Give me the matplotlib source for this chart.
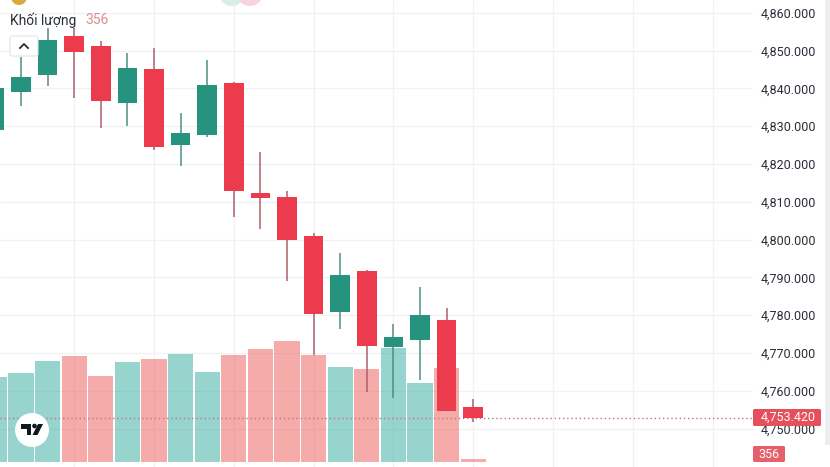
import matplotlib
matplotlib.use("Agg")
import matplotlib.pyplot as plt
from matplotlib.patches import Circle, FancyBboxPatch, Polygon, Rectangle
import numpy as np

W, H = 830, 467

# leftmost candle is cut by the chart edge
opens = [4829.0, 4839.0, 4843.5, 4853.8, 4851.1, 4836.1, 4845.0, 4825.0, 4827.6,
         4841.5, 4812.3, 4811.2, 4800.9, 4780.8, 4791.7, 4771.6, 4773.5, 4778.7, 4755.7]
closes = [4840.1, 4843.0, 4852.9, 4849.7, 4836.6, 4845.5, 4824.6, 4828.2, 4840.9,
          4812.8, 4811.1, 4799.9, 4780.3, 4790.7, 4771.9, 4774.3, 4780.0, 4754.6, 4752.8]
highs = [4843.0, 4848.3, 4856.0, 4856.0, 4852.5, 4849.3, 4850.7, 4833.5, 4847.5,
         4841.7, 4823.1, 4812.8, 4801.7, 4796.3, 4791.9, 4777.6, 4787.4, 4781.9, 4757.8]
lows = [4826.0, 4835.2, 4840.6, 4837.4, 4829.5, 4830.0, 4823.7, 4819.4, 4827.1,
        4806.0, 4802.8, 4789.0, 4769.4, 4776.3, 4759.7, 4758.1, 4762.8, 4754.6, 4751.7]
volumes = [9990, 10500, 11960, 12550, 10110, 11850, 12200, 12710, 10580, 12670,
           13300, 14240, 12670, 11210, 10940, 13450, 9370, 11060, 356]

price_ticks = [4750, 4760, 4770, 4780, 4790, 4800, 4810, 4820, 4830, 4840, 4850, 4860]
time_grid = [3, 6, 9, 12, 15, 18, 21, 24, 27]
last_line = 4752.8  # where the dotted line sits in the picture
last_price = "4,753.420"
last_volume = "356"

GREEN = "#26937f"
RED = "#ec3b4c"
GREEN_WICK = "#4f8f85"
RED_WICK = "#b0606a"
GREEN_VOL = "#26a69a"
RED_VOL = "#e9504f"
GRID = "#f0f1f3"
TEXT = "#2a2e39"

plt.rcParams["font.family"] = ["Roboto", "DejaVu Sans"]

fig = plt.figure(figsize=(W / 100, H / 100), dpi=100, facecolor="white")

# volume pane underneath, price pane on top of it
vol = fig.add_axes([0, 0, 753 / W, 1], zorder=1)
ax = fig.add_axes([0, 0, 753 / W, 1], zorder=2)
ax.patch.set_visible(False)

x = np.arange(len(opens))
up = np.array(closes) >= np.array(opens)

# 26.6 px per candle, candle 1 centred at x=21 px; 3.78 px per price unit
ax.set_xlim(1 - 21 / 26.6, 1 + (753 - 21) / 26.6)
ax.set_ylim(4860 - (H - 12.7) / 3.78, 4860 + 12.7 / 3.78)
vol.set_xlim(ax.get_xlim())
vol.set_ylim(-5 * 118, 462 * 118)
vol.axis("off")

# the grid lives on the price scale but has to show under the bars
grid = fig.add_axes([0, 0, 753 / W, 1], zorder=0)
grid.set_xlim(ax.get_xlim())
grid.set_ylim(ax.get_ylim())
grid.axis("off")
grid.vlines(time_grid, *grid.get_ylim(), color=GRID, lw=0.9)
grid.hlines(price_ticks, *grid.get_xlim(), color=GRID, lw=0.9)
vol.patch.set_visible(False)

vol.bar(x, volumes, width=0.95, color=[GREEN_VOL if u else RED_VOL for u in up],
        alpha=0.48, lw=0)

ax.vlines(x, lows, highs, color=[GREEN_WICK if u else RED_WICK for u in up], lw=1.1, zorder=2)
ax.bar(x, np.array(closes) - np.array(opens), bottom=opens, width=0.74,
       color=[GREEN if u else RED for u in up], lw=0, zorder=3)
ax.axhline(last_line, color="#c9727a", lw=1, ls=(0, (1, 2)), zorder=2.5)

ax.set_xticks([])
ax.yaxis.tick_right()
ax.set_yticks(price_ticks)
ax.set_yticklabels([f"{p:,.3f}" for p in price_ticks], fontsize=9, color=TEXT)
ax.tick_params(axis="y", length=0, pad=5.5)
for s in ax.spines.values():
    s.set_visible(False)

# overlays are placed in pixels, y measured from the top
overlay = fig.add_axes([0, 0, 1, 1], zorder=5)
overlay.set_xlim(0, W)
overlay.set_ylim(H, 0)
overlay.axis("off")

overlay.add_patch(Rectangle((825, 0), 5, 445, color="#eceef0", lw=0))

# price and volume tags
overlay.add_patch(FancyBboxPatch((753, 409), 68, 17, boxstyle="round,pad=0,rounding_size=1.5",
                                 color="#e5505c", lw=0))
overlay.text(788, 417.5, last_price, color="white", fontsize=9, ha="center", va="center")
overlay.add_patch(FancyBboxPatch((753, 446), 32, 16, boxstyle="round,pad=0,rounding_size=1.5",
                                 color="#e5606a", lw=0))
overlay.text(769, 454, last_volume, color="white", fontsize=9, ha="center", va="center")

# legend row
overlay.text(10, 20, "Khối lượng", fontsize=10, color=TEXT, va="center")
overlay.text(85, 20, last_volume, fontsize=10, color="#dd8f8f", va="center")

# collapse button
overlay.add_patch(FancyBboxPatch((10, 36), 28, 20, boxstyle="round,pad=0,rounding_size=2",
                                 fc="white", ec="#e3e4e8", lw=0.8))
overlay.plot([20, 24, 28], [48, 44, 48], color=TEXT, lw=1.3)

# coin icon and pills cut by the top edge
overlay.add_patch(Circle((19, -3), 8, color="#d9a93c", lw=0))
overlay.add_patch(Circle((232, -7), 13, color="#d6efe9", lw=0))
overlay.add_patch(Circle((250, -7), 13, color="#f8d3dc", lw=0))

# TradingView logo
overlay.add_patch(Circle((32, 430), 17, color="white", lw=0))
overlay.add_patch(Polygon([(21, 424), (31, 424), (31, 435), (26.5, 435), (26.5, 428.5), (21, 428.5)],
                          color="#131722", lw=0))
overlay.add_patch(Circle((34.5, 426), 2.3, color="#131722", lw=0))
overlay.add_patch(Polygon([(38, 424), (43, 424), (37.5, 435), (32.5, 435)], color="#131722", lw=0))

fig.savefig("out.png", dpi=100)
